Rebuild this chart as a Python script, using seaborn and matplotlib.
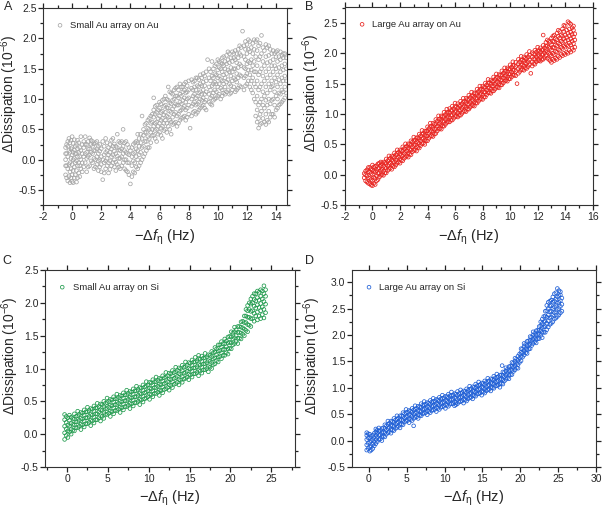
# QCM-D dissipation vs. frequency shift, four Au array panels (A-D)

import pandas as pd
import matplotlib
matplotlib.use("Agg")
import matplotlib.pyplot as plt
from matplotlib.ticker import MultipleLocator, AutoMinorLocator
import seaborn as sns

sns.set_style("ticks")
plt.rcParams["font.family"] = ["Liberation Sans", "DejaVu Sans"]
plt.rcParams.update({
    "mathtext.fontset": "custom",
    "mathtext.rm": "Liberation Sans",
    "mathtext.it": "Liberation Sans:italic",
    "axes.unicode_minus": False,
})

# ---- panel A: small Au array on Au (x column -> y values)
a_x = [-0.45, -0.3, -0.15, 0.0, 0.15, 0.3, 0.45, 0.6, 0.8, 1.0, 1.2, 1.4, 1.6, 1.8,
       2.0, 2.1, 2.3, 2.5, 2.7, 2.9, 3.1, 3.3, 3.5, 3.7, 3.9, 4.0, 4.2, 4.4, 4.6, 4.8,
       5.0, 5.2, 5.4, 5.6, 5.8, 6.0, 6.2, 6.4, 6.6, 6.8, 7.0, 7.2, 7.4, 7.6, 7.8, 8.0,
       8.1, 8.2, 8.4, 8.6, 8.8, 9.0, 9.2, 9.3, 9.4, 9.6, 9.8, 10.0, 10.2, 10.4, 10.6,
       10.8, 11.0, 11.2, 11.4, 11.6, 11.7, 11.8, 12.0, 12.2, 12.4, 12.6, 12.8, 13.0,
       13.2, 13.4, 13.6, 13.8, 14.0, 14.2, 14.4, 14.6, 14.7]
a_y = [[-0.25, 0.0, 0.2, 0.1, -0.1], [-0.35, -0.15, 0.05, 0.22, 0.3],
       [-0.38, -0.2, -0.05, 0.12, 0.28], [-0.36, -0.25, -0.08, 0.08, 0.2, 0.38],
       [-0.3, -0.12, 0.02, 0.16, 0.33], [-0.37, -0.18, -0.02, 0.1, 0.25],
       [-0.22, -0.05, 0.12, 0.28], [-0.15, 0.0, 0.15, 0.38], [-0.12, 0.05, 0.2, 0.3],
       [-0.2, 0.02, 0.12, 0.25], [-0.1, 0.08, 0.18, 0.36], [-0.05, 0.1, 0.22, 0.3],
       [-0.12, 0.0, 0.15, 0.28], [-0.18, -0.02, 0.1, 0.22], [-0.2, -0.08, 0.05, 0.18],
       [-0.33, 0.0, 0.3], [-0.15, -0.02, 0.12, 0.35], [-0.22, -0.05, 0.08, 0.2],
       [-0.1, 0.05, 0.18, 0.32], [-0.12, 0.0, 0.14, 0.26], [-0.08, 0.06, 0.2, 0.42],
       [-0.15, 0.02, 0.15, 0.28], [-0.05, 0.1, 0.22, 0.5], [-0.18, 0.0, 0.12, 0.3],
       [-0.25, -0.05, 0.08, 0.2], [-0.4, 0.15], [-0.2, -0.02, 0.1, 0.25],
       [-0.12, 0.05, 0.18, 0.3], [-0.1, 0.08, 0.22, 0.35], [0.0, 0.2, 0.35, 0.72],
       [0.1, 0.3, 0.45, 0.58], [0.2, 0.38, 0.52, 0.65], [0.28, 0.45, 0.6, 0.72],
       [0.4, 0.55, 0.7, 0.82, 1.02], [0.3, 0.5, 0.62, 0.78, 0.9],
       [0.45, 0.6, 0.72, 0.85, 0.95], [0.35, 0.55, 0.68, 0.8, 0.98],
       [0.5, 0.65, 0.78, 0.9, 1.05], [0.55, 0.7, 0.85, 0.98, 1.2],
       [0.42, 0.62, 0.78, 0.92, 1.1], [0.6, 0.75, 0.88, 1.0, 1.15],
       [0.55, 0.72, 0.9, 1.05, 1.2], [0.65, 0.8, 0.95, 1.08, 1.25],
       [0.7, 0.85, 0.98, 1.12, 1.2], [0.65, 0.82, 0.95, 1.1, 1.28],
       [0.75, 0.9, 1.02, 1.15, 1.3], [0.52], [0.72, 0.88, 1.0, 1.18, 1.32],
       [0.8, 0.95, 1.08, 1.2, 1.3], [0.78, 0.92, 1.05, 1.22, 1.35],
       [0.85, 1.0, 1.12, 1.25, 1.4], [0.9, 1.02, 1.15, 1.28, 1.42],
       [0.82, 0.98, 1.12, 1.3, 1.45], [1.65], [0.95, 1.08, 1.2, 1.35, 1.5],
       [0.9, 1.05, 1.22, 1.38, 1.62], [1.0, 1.15, 1.28, 1.42, 1.55],
       [1.05, 1.2, 1.35, 1.48, 1.65], [1.0, 1.18, 1.32, 1.5, 1.6],
       [1.1, 1.25, 1.4, 1.55, 1.7], [1.12, 1.28, 1.42, 1.58, 1.72],
       [1.08, 1.25, 1.45, 1.6, 1.75], [1.15, 1.3, 1.45, 1.62, 1.78],
       [1.12, 1.32, 1.5, 1.65, 1.8], [1.18, 1.35, 1.52, 1.68, 1.82],
       [1.2, 1.38, 1.55, 1.72, 1.85], [2.12], [1.15, 1.35, 1.52, 1.7, 1.88],
       [1.25, 1.42, 1.58, 1.75, 1.9], [1.2, 1.4, 1.6, 1.78, 1.95],
       [1.1, 1.35, 1.55, 1.75, 1.92], [0.72, 0.95, 1.2, 1.45, 1.7, 1.95],
       [0.52, 0.68, 0.9, 1.15, 1.4, 1.65, 1.88], [0.6, 0.8, 1.0, 1.25, 1.5, 1.75, 2.05],
       [0.62, 0.85, 1.05, 1.3, 1.55, 1.8], [0.65, 0.9, 1.1, 1.35, 1.6, 1.85],
       [0.7, 0.92, 1.15, 1.4, 1.62, 1.82], [0.75, 1.0, 1.22, 1.45, 1.65, 1.8],
       [0.82, 1.05, 1.28, 1.5, 1.7, 1.78], [0.9, 1.1, 1.32, 1.52, 1.7],
       [0.95, 1.15, 1.35, 1.55, 1.72], [1.02, 1.2, 1.38, 1.58, 1.75],
       [1.1, 1.3, 1.5, 1.68]]
# second set of columns read in between the first ones
a2_x = [-0.38, -0.22, -0.07, 0.07, 0.22, 0.37, 0.52, 0.7, 0.9, 1.1, 1.3, 1.5, 1.7, 1.9,
        2.2, 2.4, 2.6, 2.8, 3.0, 3.2, 3.4, 3.6, 3.8, 4.1, 4.3, 4.5, 4.7, 4.9, 5.1, 5.3,
        5.5, 5.7, 5.9, 6.1, 6.3, 6.5, 6.7, 6.9, 7.1, 7.3, 7.5, 7.7, 7.9, 8.3, 8.5, 8.7,
        8.9, 9.1, 9.5, 9.7, 9.9, 10.1, 10.3, 10.5, 10.7, 10.9, 11.1, 11.3, 11.5, 11.9,
        12.1, 12.3, 12.5, 12.7, 12.9, 13.1, 13.3, 13.5, 13.7, 13.9, 14.1, 14.3, 14.5]
a2_y = [[-0.3, -0.1, 0.1, 0.25], [-0.28, -0.08, 0.15, 0.35],
        [-0.3, -0.15, 0.02, 0.18, 0.32], [-0.38, -0.18, 0.0, 0.12, 0.27],
        [-0.25, -0.05, 0.1, 0.22], [-0.3, -0.1, 0.05, 0.18, 0.32],
        [-0.28, -0.1, 0.05, 0.2], [-0.2, -0.05, 0.1, 0.25], [-0.05, 0.1, 0.25, 0.38],
        [-0.12, 0.05, 0.18, 0.3], [-0.02, 0.12, 0.25, 0.32], [-0.15, 0.02, 0.15, 0.26],
        [-0.08, 0.05, 0.18, 0.3], [-0.12, 0.0, 0.14, 0.25], [-0.22, -0.05, 0.08, 0.22],
        [-0.1, 0.02, 0.15, 0.28], [-0.16, -0.02, 0.12, 0.25], [-0.05, 0.08, 0.22, 0.35],
        [-0.18, -0.04, 0.1, 0.22], [-0.12, 0.02, 0.16, 0.3], [-0.1, 0.05, 0.18, 0.3],
        [-0.15, 0.0, 0.15, 0.28], [-0.2, -0.05, 0.1, 0.25], [-0.28, -0.1, 0.05, 0.2],
        [-0.22, -0.05, 0.12, 0.28], [-0.15, 0.0, 0.15, 0.28, 0.42],
        [-0.05, 0.12, 0.28, 0.42], [0.05, 0.22, 0.4, 0.5], [0.15, 0.3, 0.45, 0.6],
        [0.2, 0.35, 0.5, 0.68], [0.4, 0.5, 0.62, 0.75], [0.35, 0.48, 0.6, 0.75, 0.88],
        [0.42, 0.55, 0.68, 0.82], [0.4, 0.52, 0.65, 0.78, 0.92],
        [0.48, 0.6, 0.74, 0.88, 1.0], [0.45, 0.6, 0.72, 0.86, 1.0],
        [0.5, 0.65, 0.8, 0.94, 1.12], [0.58, 0.7, 0.84, 0.98, 1.08],
        [0.62, 0.78, 0.92, 1.05, 1.18], [0.6, 0.75, 0.9, 1.02, 1.15],
        [0.68, 0.82, 0.92, 1.05, 1.2], [0.72, 0.88, 1.02, 1.15, 1.25],
        [0.7, 0.85, 1.0, 1.12, 1.22], [0.78, 0.92, 1.05, 1.15, 1.28],
        [0.75, 0.9, 1.02, 1.15, 1.35], [0.82, 0.95, 1.1, 1.2, 1.32],
        [0.88, 0.98, 1.08, 1.22, 1.35], [0.85, 0.95, 1.08, 1.22, 1.38],
        [0.92, 1.02, 1.15, 1.3, 1.45], [0.98, 1.1, 1.25, 1.35, 1.5],
        [1.02, 1.12, 1.25, 1.4, 1.58], [1.08, 1.25, 1.38, 1.52, 1.62],
        [1.05, 1.15, 1.3, 1.45, 1.58, 1.68], [1.08, 1.2, 1.35, 1.5, 1.62],
        [1.15, 1.32, 1.48, 1.65, 1.78], [1.1, 1.22, 1.38, 1.52, 1.68],
        [1.2, 1.35, 1.5, 1.68, 1.75], [1.15, 1.28, 1.42, 1.6, 1.75],
        [1.22, 1.4, 1.58, 1.75, 1.88], [1.22, 1.38, 1.5, 1.65, 1.82, 1.95],
        [1.3, 1.48, 1.62, 1.82, 1.98], [1.15, 1.3, 1.48, 1.65, 1.85],
        [1.0, 1.25, 1.45, 1.62, 1.82, 1.98], [0.62, 0.82, 1.05, 1.3, 1.55, 1.8, 1.98],
        [0.58, 0.75, 0.95, 1.2, 1.45, 1.7, 1.92], [0.68, 0.9, 1.12, 1.38, 1.62, 1.85],
        [0.58, 0.75, 0.98, 1.2, 1.45, 1.7, 1.9], [0.62, 0.8, 1.0, 1.25, 1.5, 1.72, 1.88],
        [0.75, 0.98, 1.2, 1.3, 1.55, 1.75], [0.7, 0.9, 1.12, 1.35, 1.55, 1.75],
        [0.85, 1.0, 1.2, 1.4, 1.62, 1.8], [0.92, 1.08, 1.25, 1.45, 1.65, 1.78],
        [0.98, 1.12, 1.3, 1.48, 1.68, 1.75]]

# ---- panel B: large Au array on Au
b_x = [-0.6, -0.4, -0.2, 0.0, 0.2, 0.4, 0.6, 0.8, 1.0, 1.2, 1.4, 1.6, 1.8, 2.0, 2.2,
       2.4, 2.6, 2.8, 3.0, 3.2, 3.4, 3.6, 3.8, 4.0, 4.2, 4.4, 4.6, 4.8, 5.0, 5.2, 5.4,
       5.6, 5.8, 6.0, 6.2, 6.4, 6.6, 6.8, 7.0, 7.2, 7.4, 7.6, 7.8, 8.0, 8.2, 8.4, 8.6,
       8.8, 9.0, 9.2, 9.4, 9.6, 9.8, 10.0, 10.2, 10.4, 10.5, 10.6, 10.8, 11.0, 11.2,
       11.4, 11.5, 11.6, 11.8, 12.0, 12.2, 12.4, 12.6, 12.8, 13.0, 13.2, 13.4, 13.6,
       13.8, 14.0, 14.2, 14.4, 14.6, 14.7]
b_y = [[-0.05, 0.02], [-0.12, -0.02, 0.08], [-0.15, -0.06, 0.04, 0.12],
       [-0.18, -0.1, 0.0, 0.08, 0.16], [-0.16, -0.06, 0.05, 0.14], [-0.08, 0.02, 0.1, 0.18],
       [-0.01, 0.07, 0.15, 0.21], [-0.01, 0.06, 0.14, 0.21], [0.03, 0.11, 0.19, 0.26],
       [0.09, 0.17, 0.25, 0.31], [0.09, 0.16, 0.24, 0.31], [0.13, 0.21, 0.29, 0.36],
       [0.19, 0.27, 0.35, 0.41], [0.19, 0.26, 0.34, 0.41], [0.23, 0.31, 0.39, 0.46],
       [0.29, 0.37, 0.45, 0.51], [0.29, 0.36, 0.44, 0.51], [0.33, 0.41, 0.49, 0.56],
       [0.4, 0.48, 0.56, 0.62], [0.39, 0.46, 0.54, 0.61], [0.44, 0.52, 0.6, 0.67],
       [0.51, 0.59, 0.67, 0.73], [0.5, 0.57, 0.65, 0.72], [0.56, 0.64, 0.72, 0.79],
       [0.63, 0.71, 0.79, 0.85], [0.63, 0.7, 0.78, 0.85], [0.68, 0.76, 0.84, 0.91],
       [0.75, 0.83, 0.91, 0.97], [0.75, 0.82, 0.9, 0.97], [0.8, 0.88, 0.96, 1.03],
       [0.86, 0.94, 1.02, 1.08], [0.87, 0.94, 1.02, 1.09], [0.9, 0.98, 1.06, 1.13],
       [0.96, 1.04, 1.12, 1.18], [0.95, 1.02, 1.1, 1.17], [0.98, 1.06, 1.14, 1.21],
       [1.04, 1.12, 1.2, 1.26], [1.04, 1.11, 1.19, 1.26], [1.08, 1.16, 1.24, 1.31],
       [1.14, 1.22, 1.3, 1.36], [1.13, 1.2, 1.28, 1.35], [1.18, 1.26, 1.34, 1.41],
       [1.24, 1.32, 1.4, 1.46], [1.24, 1.31, 1.39, 1.46], [1.28, 1.36, 1.44, 1.51],
       [1.35, 1.43, 1.51, 1.57], [1.34, 1.41, 1.49, 1.56], [1.38, 1.46, 1.54, 1.61],
       [1.44, 1.52, 1.6, 1.66], [1.43, 1.5, 1.58, 1.65], [1.48, 1.56, 1.64, 1.71],
       [1.54, 1.62, 1.7, 1.76], [1.54, 1.61, 1.69, 1.76], [1.58, 1.66, 1.74, 1.81],
       [1.64, 1.72, 1.8, 1.86], [1.63, 1.7, 1.78, 1.85], [1.5],
       [1.67, 1.75, 1.83, 1.9], [1.73, 1.81, 1.89, 1.95], [1.72, 1.79, 1.87, 1.94],
       [1.75, 1.83, 1.91, 1.98], [1.81, 1.89, 1.97, 2.03], [1.67],
       [1.79, 1.86, 1.94, 2.01], [1.82, 1.9, 1.98, 2.05], [1.88, 1.96, 2.04, 2.1],
       [1.87, 1.94, 2.02, 2.09], [1.9, 1.98, 2.06, 2.13, 2.3], [1.96, 2.04, 2.12, 2.18],
       [1.9, 2.0, 2.1, 2.2], [1.85, 1.96, 2.05, 2.14, 2.25], [1.88, 1.98, 2.09, 2.19, 2.3],
       [1.9, 2.02, 2.12, 2.22, 2.33], [1.93, 2.05, 2.15, 2.25, 2.36],
       [1.96, 2.08, 2.18, 2.28, 2.4], [1.98, 2.1, 2.2, 2.3, 2.45],
       [2.0, 2.12, 2.22, 2.33, 2.52], [2.02, 2.14, 2.24, 2.35, 2.48],
       [2.05, 2.16, 2.27, 2.38, 2.45], [2.1, 2.22, 2.32]]
b2_x = [-0.5, -0.3, -0.1, 0.1, 0.3, 0.5, 0.7, 0.9, 1.1, 1.3, 1.5, 1.7, 1.9, 2.1, 2.3,
        2.5, 2.7, 2.9, 3.1, 3.3, 3.5, 3.7, 3.9, 4.1, 4.3, 4.5, 4.7, 4.9, 5.1, 5.3, 5.5,
        5.7, 5.9, 6.1, 6.3, 6.5, 6.7, 6.9, 7.1, 7.3, 7.5, 7.7, 7.9, 8.1, 8.3, 8.5, 8.7,
        8.9, 9.1, 9.3, 9.5, 9.7, 9.9, 10.1, 10.3, 10.7, 10.9, 11.1, 11.3, 11.7, 11.9,
        12.1, 12.3, 12.5, 12.7, 12.9, 13.1, 13.3, 13.5, 13.7, 13.9, 14.1, 14.3, 14.5]
b2_y = [[-0.1, 0.0, 0.06], [-0.14, -0.05, 0.05, 0.12], [-0.17, -0.08, 0.02, 0.1],
        [-0.14, -0.04, 0.06, 0.13], [-0.1, -0.02, 0.07, 0.15], [-0.04, 0.03, 0.11, 0.19],
        [0.0, 0.09, 0.18], [0.03, 0.12, 0.2], [0.07, 0.15, 0.23], [0.11, 0.19, 0.27],
        [0.14, 0.22, 0.3], [0.16, 0.24, 0.33], [0.21, 0.29, 0.37], [0.24, 0.32, 0.4],
        [0.27, 0.35, 0.43], [0.31, 0.39, 0.47], [0.34, 0.42, 0.5], [0.38, 0.46, 0.54],
        [0.41, 0.49, 0.57], [0.45, 0.53, 0.61], [0.48, 0.56, 0.64], [0.52, 0.6, 0.68],
        [0.56, 0.64, 0.72], [0.6, 0.68, 0.76], [0.64, 0.72, 0.8], [0.67, 0.75, 0.83],
        [0.72, 0.8, 0.88], [0.76, 0.84, 0.92], [0.8, 0.88, 0.96], [0.83, 0.91, 0.99],
        [0.87, 0.95, 1.03], [0.9, 0.98, 1.06], [0.93, 1.01, 1.09], [0.96, 1.04, 1.12],
        [0.98, 1.06, 1.14], [1.01, 1.09, 1.17], [1.05, 1.13, 1.21], [1.08, 1.16, 1.24],
        [1.11, 1.19, 1.27], [1.14, 1.22, 1.3], [1.18, 1.26, 1.34], [1.21, 1.29, 1.37],
        [1.25, 1.33, 1.41], [1.28, 1.36, 1.44], [1.32, 1.4, 1.48], [1.35, 1.43, 1.51],
        [1.38, 1.46, 1.54], [1.41, 1.49, 1.57], [1.44, 1.52, 1.6], [1.48, 1.56, 1.64],
        [1.51, 1.59, 1.67], [1.55, 1.63, 1.71], [1.58, 1.66, 1.74], [1.61, 1.69, 1.77],
        [1.64, 1.72, 1.8], [1.7, 1.78, 1.86], [1.73, 1.81, 1.89], [1.76, 1.84, 1.92],
        [1.78, 1.86, 1.94], [1.83, 1.91, 1.99], [1.86, 1.94, 2.02], [1.88, 1.96, 2.04],
        [1.9, 1.98, 2.06], [1.93, 2.01, 2.09], [1.92, 2.02, 2.12, 2.22],
        [1.88, 1.98, 2.08, 2.18], [1.9, 2.0, 2.1, 2.2, 2.28], [1.92, 2.03, 2.14, 2.24],
        [1.95, 2.06, 2.17, 2.28, 2.38], [1.98, 2.1, 2.2, 2.3],
        [2.0, 2.12, 2.24, 2.36, 2.46], [2.02, 2.14, 2.26, 2.38],
        [2.05, 2.17, 2.29, 2.4, 2.5], [2.08, 2.2, 2.31, 2.42]]

# ---- panel C: small Au array on Si
c_x = [-0.3, 0.1, 0.5, 0.9, 1.3, 1.7, 2.1, 2.5, 2.9, 3.3, 3.7, 4.1, 4.5, 4.9, 5.3, 5.7,
       6.1, 6.5, 6.9, 7.3, 7.7, 8.1, 8.5, 8.9, 9.3, 9.7, 10.1, 10.5, 10.9, 11.3, 11.7,
       12.1, 12.5, 12.9, 13.3, 13.7, 14.1, 14.5, 14.9, 15.3, 15.7, 16.1, 16.5, 16.9,
       17.3, 17.7, 18.1, 18.5, 18.9, 19.3, 19.7, 20.1, 20.5, 20.9, 21.3, 21.7, 22.1,
       22.5, 22.9, 23.3, 23.7, 24.1]
c_y = [[-0.08, 0.02, 0.12, 0.22, 0.3], [-0.05, 0.05, 0.14, 0.25], [0.0, 0.08, 0.17, 0.26],
       [0.05, 0.14, 0.23, 0.31], [0.1, 0.19, 0.28, 0.35], [0.07, 0.15, 0.24, 0.33],
       [0.11, 0.2, 0.29, 0.37], [0.16, 0.25, 0.34, 0.41], [0.13, 0.21, 0.3, 0.39],
       [0.17, 0.26, 0.35, 0.43], [0.22, 0.31, 0.4, 0.47], [0.2, 0.28, 0.37, 0.46],
       [0.24, 0.33, 0.42, 0.5], [0.3, 0.39, 0.48, 0.55], [0.27, 0.35, 0.44, 0.53],
       [0.31, 0.4, 0.49, 0.57], [0.36, 0.45, 0.54, 0.61], [0.33, 0.41, 0.5, 0.59],
       [0.37, 0.46, 0.55, 0.63], [0.42, 0.51, 0.6, 0.67], [0.39, 0.47, 0.56, 0.65],
       [0.43, 0.52, 0.61, 0.69], [0.48, 0.57, 0.66, 0.73], [0.45, 0.53, 0.62, 0.71],
       [0.49, 0.58, 0.67, 0.75], [0.55, 0.64, 0.73, 0.8], [0.53, 0.61, 0.7, 0.79],
       [0.57, 0.66, 0.75, 0.83], [0.62, 0.71, 0.8, 0.87], [0.59, 0.67, 0.76, 0.85],
       [0.63, 0.72, 0.81, 0.89], [0.69, 0.78, 0.87, 0.94], [0.67, 0.75, 0.84, 0.93],
       [0.71, 0.8, 0.89, 0.97], [0.77, 0.86, 0.95, 1.02], [0.75, 0.83, 0.92, 1.01],
       [0.79, 0.88, 0.97, 1.05], [0.85, 0.94, 1.03, 1.1], [0.83, 0.91, 1.0, 1.09],
       [0.87, 0.96, 1.05, 1.13], [0.92, 1.01, 1.1, 1.17], [0.89, 0.97, 1.06, 1.15, 1.2],
       [0.93, 1.02, 1.11, 1.19], [0.98, 1.07, 1.16, 1.23], [0.95, 1.03, 1.12, 1.21],
       [1.0, 1.09, 1.18, 1.26], [1.07, 1.16, 1.25, 1.32], [1.1, 1.18, 1.27, 1.36],
       [1.15, 1.24, 1.33, 1.41], [1.2, 1.29, 1.38, 1.45], [1.22, 1.3, 1.39, 1.48],
       [1.3, 1.39, 1.48, 1.56], [1.38, 1.47, 1.56, 1.63], [1.38, 1.46, 1.55, 1.64],
       [1.45, 1.54, 1.63, 1.71], [1.5, 1.6, 1.7, 1.8], [1.56, 1.67, 1.78, 1.88, 1.96],
       [1.64, 1.76, 1.87, 1.98, 2.06], [1.72, 1.84, 1.95, 2.05, 2.14],
       [1.74, 1.86, 1.97, 2.08, 2.18], [1.76, 1.88, 1.99, 2.1, 2.2],
       [1.77, 1.9, 2.02, 2.14, 2.26]]
c2_x = [-0.1, 0.3, 0.7, 1.1, 1.5, 1.9, 2.3, 2.7, 3.1, 3.5, 3.9, 4.3, 4.7, 5.1, 5.5, 5.9,
        6.3, 6.7, 7.1, 7.5, 7.9, 8.3, 8.7, 9.1, 9.5, 9.9, 10.3, 10.7, 11.1, 11.5, 11.9,
        12.3, 12.7, 13.1, 13.5, 13.9, 14.3, 14.7, 15.1, 15.5, 15.9, 16.3, 16.7, 17.1,
        17.5, 17.9, 18.3, 18.7, 19.1, 19.5, 19.9, 20.3, 20.7, 21.1, 21.5, 21.9, 22.3,
        22.7, 23.1, 23.5, 23.9, 24.3]
c2_y = [[-0.02, 0.08, 0.18, 0.27], [0.03, 0.12, 0.21, 0.29], [0.06, 0.15, 0.24],
        [0.1, 0.19, 0.27], [0.12, 0.21, 0.3], [0.14, 0.23, 0.32], [0.16, 0.25, 0.34],
        [0.18, 0.27, 0.36], [0.2, 0.29, 0.38], [0.22, 0.31, 0.4], [0.25, 0.34, 0.42],
        [0.27, 0.36, 0.45], [0.3, 0.39, 0.47], [0.32, 0.41, 0.5], [0.34, 0.43, 0.52],
        [0.36, 0.45, 0.54], [0.38, 0.47, 0.56], [0.4, 0.49, 0.58], [0.42, 0.51, 0.6],
        [0.44, 0.53, 0.62], [0.46, 0.55, 0.64], [0.48, 0.57, 0.66], [0.5, 0.59, 0.68],
        [0.52, 0.61, 0.7], [0.54, 0.63, 0.72], [0.57, 0.66, 0.75], [0.6, 0.69, 0.78],
        [0.62, 0.71, 0.8], [0.64, 0.73, 0.82], [0.66, 0.75, 0.84], [0.68, 0.77, 0.86],
        [0.71, 0.8, 0.89], [0.74, 0.83, 0.92], [0.76, 0.85, 0.94], [0.79, 0.88, 0.97],
        [0.82, 0.91, 1.0], [0.84, 0.93, 1.02], [0.87, 0.96, 1.05], [0.9, 0.99, 1.08],
        [0.92, 1.01, 1.1], [0.94, 1.03, 1.12], [0.96, 1.05, 1.14], [0.98, 1.07, 1.16],
        [1.0, 1.09, 1.18], [1.02, 1.11, 1.2], [1.06, 1.15, 1.24], [1.12, 1.21, 1.3],
        [1.18, 1.27, 1.36], [1.2, 1.29, 1.38], [1.24, 1.33, 1.42], [1.31, 1.4, 1.49],
        [1.36, 1.45, 1.54], [1.41, 1.5, 1.59], [1.46, 1.55, 1.64], [1.52, 1.62, 1.72],
        [1.58, 1.7, 1.8, 1.9], [1.66, 1.78, 1.9, 2.0], [1.76, 1.88, 2.0, 2.1],
        [1.8, 1.92, 2.03, 2.14], [1.8, 1.93, 2.04, 2.16], [1.82, 1.94, 2.06, 2.18],
        [1.85, 1.98, 2.1, 2.2]]

# ---- panel D: large Au array on Si
d_x = [-0.3, 0.1, 0.5, 0.9, 1.3, 1.7, 2.1, 2.5, 2.9, 3.3, 3.7, 4.1, 4.5, 4.9, 5.3, 5.7,
       5.9, 6.1, 6.5, 6.9, 7.3, 7.7, 8.1, 8.5, 8.9, 9.3, 9.7, 10.1, 10.5, 10.9, 11.3,
       11.5, 11.7, 12.1, 12.5, 12.9, 13.3, 13.7, 14.1, 14.5, 14.9, 15.3, 15.7, 16.1,
       16.5, 16.9, 17.3, 17.6, 17.7, 18.1, 18.5, 18.9, 19.3, 19.7, 20.1, 20.5, 20.9,
       21.3, 21.7, 22.1, 22.5, 22.9, 23.3, 23.7, 24.1, 24.5, 24.9, 25.3]
d_y = [[-0.18, -0.08, 0.02, 0.1, 0.15], [-0.2, -0.12, -0.03, 0.05, 0.12],
       [-0.15, -0.07, 0.02, 0.1], [-0.06, 0.02, 0.1, 0.17, 0.22], [0.02, 0.1, 0.18, 0.24],
       [0.0, 0.07, 0.15, 0.23], [0.07, 0.15, 0.23, 0.3], [0.15, 0.23, 0.31, 0.37],
       [0.14, 0.21, 0.29, 0.37], [0.19, 0.27, 0.35, 0.42], [0.25, 0.33, 0.41, 0.47],
       [0.24, 0.31, 0.39, 0.47], [0.3, 0.38, 0.46, 0.53], [0.37, 0.45, 0.53, 0.59],
       [0.34, 0.41, 0.49, 0.57], [0.38, 0.46, 0.54, 0.61], [0.28],
       [0.44, 0.52, 0.6, 0.66], [0.42, 0.49, 0.57, 0.65], [0.47, 0.55, 0.63, 0.7],
       [0.52, 0.6, 0.68, 0.74], [0.49, 0.56, 0.64, 0.72], [0.53, 0.61, 0.69, 0.76],
       [0.58, 0.66, 0.74, 0.8], [0.55, 0.62, 0.7, 0.78], [0.59, 0.67, 0.75, 0.82],
       [0.64, 0.72, 0.8, 0.86], [0.61, 0.68, 0.76, 0.84], [0.65, 0.73, 0.81, 0.88],
       [0.7, 0.78, 0.86, 0.92], [0.66, 0.73, 0.81, 0.89], [0.68],
       [0.7, 0.78, 0.86, 0.93], [0.74, 0.82, 0.9, 0.96], [0.71, 0.78, 0.86, 0.94],
       [0.75, 0.83, 0.91, 0.98], [0.81, 0.89, 0.97, 1.03], [0.79, 0.86, 0.94, 1.02],
       [0.84, 0.92, 1.0, 1.07], [0.89, 0.97, 1.05, 1.11], [0.86, 0.93, 1.01, 1.09],
       [0.9, 0.98, 1.06, 1.13], [0.96, 1.04, 1.12, 1.18], [0.94, 1.01, 1.09, 1.17],
       [0.99, 1.07, 1.15, 1.22], [1.04, 1.12, 1.2, 1.26], [1.01, 1.08, 1.16, 1.24],
       [1.42], [1.07, 1.15, 1.23, 1.3], [1.16, 1.24, 1.32, 1.38], [1.17, 1.24, 1.32, 1.4],
       [1.25, 1.33, 1.41, 1.48], [1.34, 1.42, 1.5, 1.56], [1.37, 1.44, 1.52, 1.6],
       [1.51, 1.59, 1.67, 1.74], [1.62, 1.7, 1.78, 1.84], [1.65, 1.72, 1.8, 1.88],
       [1.74, 1.82, 1.9, 1.97], [1.84, 1.92, 2.0, 2.06], [1.85, 1.92, 2.0, 2.08],
       [1.93, 2.01, 2.09, 2.16], [1.95, 2.05, 2.14, 2.22, 2.3],
       [2.05, 2.16, 2.26, 2.36, 2.45], [2.15, 2.27, 2.38, 2.5, 2.62],
       [2.22, 2.34, 2.45, 2.56, 2.66], [2.3, 2.42, 2.53, 2.64, 2.78],
       [2.35, 2.48, 2.6, 2.72, 2.88], [2.42, 2.54, 2.65, 2.76, 2.82]]
d2_x = [-0.1, 0.3, 0.7, 1.1, 1.5, 1.9, 2.3, 2.7, 3.1, 3.5, 3.9, 4.3, 4.7, 5.1, 5.5, 5.9,
        6.3, 6.7, 7.1, 7.5, 7.9, 8.3, 8.7, 9.1, 9.5, 9.9, 10.3, 10.7, 11.1, 11.5, 11.9,
        12.3, 12.7, 13.1, 13.5, 13.9, 14.3, 14.7, 15.1, 15.5, 15.9, 16.3, 16.7, 17.1,
        17.5, 17.9, 18.3, 18.7, 19.1, 19.5, 19.9, 20.3, 20.7, 21.1, 21.5, 21.9, 22.3,
        22.7, 23.1, 23.5, 23.9, 24.3, 24.7, 25.1, 25.5]
d2_y = [[-0.15, -0.05, 0.05, 0.13], [-0.18, -0.1, 0.0, 0.08], [-0.1, -0.02, 0.06, 0.14],
        [-0.02, 0.06, 0.14, 0.2], [0.03, 0.11, 0.19], [0.08, 0.16, 0.24],
        [0.12, 0.2, 0.28], [0.17, 0.25, 0.33], [0.2, 0.28, 0.36], [0.23, 0.31, 0.39],
        [0.27, 0.35, 0.43], [0.31, 0.39, 0.47], [0.35, 0.43, 0.51], [0.38, 0.46, 0.54],
        [0.4, 0.48, 0.56], [0.42, 0.5, 0.58], [0.45, 0.53, 0.61], [0.48, 0.56, 0.64],
        [0.51, 0.59, 0.67], [0.53, 0.61, 0.69], [0.55, 0.63, 0.71], [0.57, 0.65, 0.73],
        [0.59, 0.67, 0.75], [0.61, 0.69, 0.77], [0.63, 0.71, 0.79], [0.65, 0.73, 0.81],
        [0.67, 0.75, 0.83], [0.69, 0.77, 0.85], [0.7, 0.78, 0.86], [0.72, 0.8, 0.88],
        [0.73, 0.81, 0.89], [0.75, 0.83, 0.91], [0.77, 0.85, 0.93], [0.79, 0.87, 0.95],
        [0.82, 0.9, 0.98], [0.85, 0.93, 1.01], [0.88, 0.96, 1.04], [0.9, 0.98, 1.06],
        [0.92, 1.0, 1.08], [0.94, 1.02, 1.1], [0.97, 1.05, 1.13], [1.0, 1.08, 1.16],
        [1.03, 1.11, 1.19], [1.05, 1.13, 1.21], [1.08, 1.16, 1.24], [1.13, 1.21, 1.29],
        [1.19, 1.27, 1.35], [1.25, 1.33, 1.41], [1.31, 1.39, 1.47], [1.38, 1.46, 1.54],
        [1.48, 1.56, 1.64], [1.58, 1.66, 1.74], [1.66, 1.74, 1.82], [1.73, 1.81, 1.89],
        [1.8, 1.88, 1.96], [1.87, 1.95, 2.03], [1.93, 2.01, 2.09],
        [1.99, 2.08, 2.17, 2.25], [2.05, 2.15, 2.25, 2.35],
        [2.1, 2.22, 2.34, 2.46, 2.56], [2.2, 2.32, 2.44, 2.55, 2.64],
        [2.25, 2.38, 2.5, 2.62, 2.72], [2.32, 2.44, 2.56, 2.68, 2.8],
        [2.38, 2.5, 2.62, 2.74, 2.84], [2.45, 2.58, 2.7]]

labels = ["Small Au array on Au", "Large Au array on Au",
          "Small Au array on Si", "Large Au array on Si"]
colors = ["#a6a6a6", "#e8221e", "#1f9a4c", "#1f5fd6"]
letters = ["A", "B", "C", "D"]

# axes placement in figure fractions (left, bottom, width, height)
boxes = [[0.0713, 0.597, 0.4046, 0.387], [0.572, 0.597, 0.411, 0.389],
         [0.0746, 0.0825, 0.4146, 0.387], [0.5837, 0.0825, 0.4046, 0.387]]
xlims = [(-2, 14.75), (-2, 16), (-2.7, 27.9), (-2.25, 30)]
ylims = [(-0.75, 2.5), (-0.5, 2.76), (-0.5, 2.5), (-0.5, 3.23)]
xsteps = [2, 2, 5, 5]
ylab_x = [-0.094, -0.093, -0.096, -0.118]
letter_pos = [(0.006, 0.986), (0.505, 0.986), (0.004, 0.487), (0.506, 0.487)]


def to_frame(*pairs):
    rows = []
    for xs, ys in pairs:
        rows += [(x, y) for x, col in zip(xs, ys) for y in col]
    return pd.DataFrame(rows, columns=["shift", "diss"])


frames = [to_frame((a_x, a_y), (a2_x, a2_y)), to_frame((b_x, b_y), (b2_x, b2_y)),
          to_frame((c_x, c_y), (c2_x, c2_y)), to_frame((d_x, d_y), (d2_x, d2_y))]

fig = plt.figure(figsize=(6.03, 5.09), dpi=100)

for i in range(4):
    ax = fig.add_axes(boxes[i])
    sns.scatterplot(data=frames[i], x="shift", y="diss", ax=ax, marker="o", s=7,
                    facecolor="none", edgecolor=colors[i], linewidth=0.55,
                    label=labels[i])
    ax.set_xlim(*xlims[i])
    ax.set_ylim(*ylims[i])
    ax.xaxis.set_major_locator(MultipleLocator(xsteps[i]))
    ax.yaxis.set_major_locator(MultipleLocator(0.5))
    ax.xaxis.set_minor_locator(AutoMinorLocator(2))
    ax.yaxis.set_minor_locator(AutoMinorLocator(2))
    ax.tick_params(which="both", direction="out", bottom=True, left=True,
                   top=True, right=True, labeltop=False, labelright=False,
                   labelsize=7.5, color="#222222", width=0.9)
    ax.tick_params(which="major", length=3.5, pad=1.2)
    ax.tick_params(which="minor", length=2)
    for sp in ax.spines.values():
        sp.set_linewidth(0.8)
        sp.set_color("#333333")
    ax.set_ylabel("ΔDissipation (10$^{-6}$)", fontsize=10)
    ax.yaxis.set_label_coords(ylab_x[i], 0.565)
    ax.set_xlabel("−Δ$f_\\mathregular{η}$ (Hz)", fontsize=10.5, labelpad=4)
    ax.legend(loc="upper left", bbox_to_anchor=(0.035, 0.955), frameon=False,
              handlelength=1.0, handletextpad=0.6, borderaxespad=0, fontsize=6.8)
    fig.text(letter_pos[i][0], letter_pos[i][1], letters[i], fontsize=9,
             ha="left", va="center")

plt.savefig("out.png", dpi=100)
